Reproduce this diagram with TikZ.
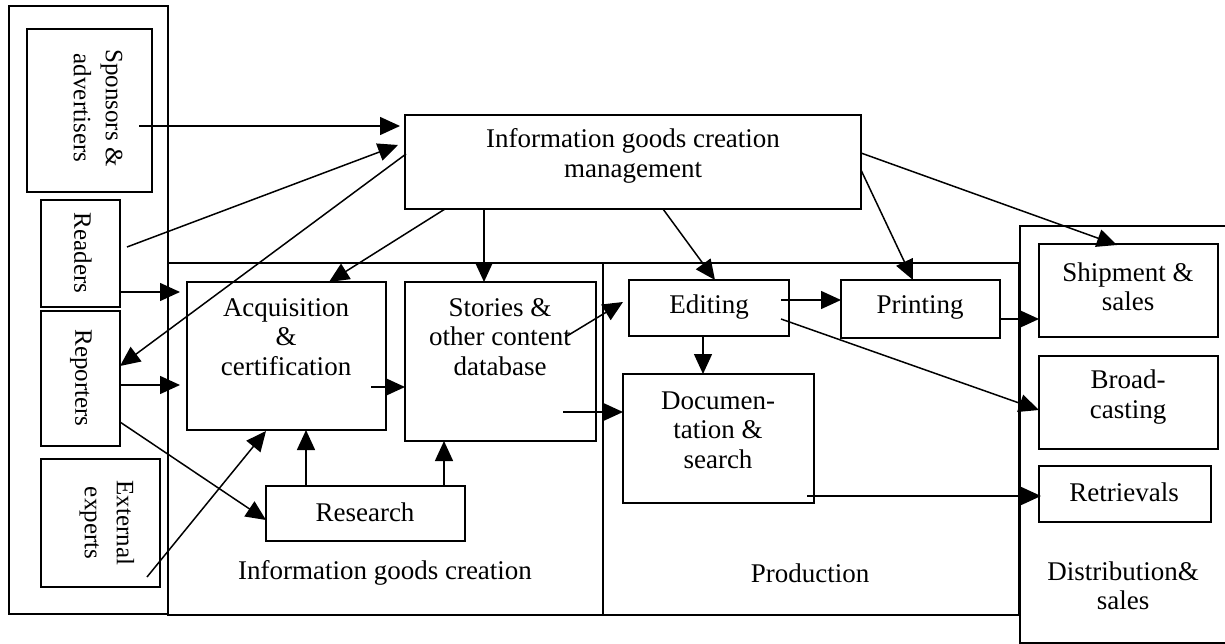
\documentclass[tikz,border=0pt]{standalone}
\usepackage{fontspec}
\setmainfont{Liberation Serif}
\usetikzlibrary{arrows.meta,calc}
\begin{document}
\begin{tikzpicture}[x=1pt,y=-1pt,
  box/.style={draw,line width=1.5pt,inner sep=0pt,outer sep=0pt,rectangle},
  region/.style={draw,line width=1.5pt,inner sep=0pt,outer sep=0pt,rectangle},
  txt/.style={inner sep=0pt,align=center,font=\fontsize{27}{29.5}\selectfont},
  vtxt/.style={inner sep=0pt,align=center,rotate=-90,font=\fontsize{25}{32}\selectfont},
  arr/.style={draw,line width=1.5pt,-{Triangle[length=20pt,width=18pt]}}]
\useasboundingbox (0,0) rectangle (1225,644);
% regions
\node[region,minimum width=159pt,minimum height=608pt] (outer) at (88.5,310) {};
\node[region,minimum width=435pt,minimum height=352pt] (creation) at (385.5,439) {};
\node[region,minimum width=416pt,minimum height=352pt] (production) at (811,439) {};
\node[region,minimum width=212pt,minimum height=417pt] (dist) at (1126,434.5) {};
% left actors
\node[box,minimum width=125pt,minimum height=163pt] (spons) at (89.5,110.5) {};
\node[box,minimum width=79pt,minimum height=107pt] (readers) at (80.5,253.5) {};
\node[box,minimum width=79pt,minimum height=135pt] (reporters) at (80.5,378.5) {};
\node[box,minimum width=119pt,minimum height=128pt] (experts) at (100.5,523) {};
\node[vtxt] (spt) at (98,108) {Sponsors \&\\advertisers};
\node[vtxt] (rdt) at (83,253) {Readers};
\node[vtxt] (rpt) at (81,378) {Reporters};
\node[vtxt] (ext) at (107,523) {External\\experts};
% main boxes
\node[box,minimum width=456pt,minimum height=94pt] (mgmt) at (633,162) {};
\node[box,minimum width=199pt,minimum height=148pt] (acq) at (286.5,356) {};
\node[box,minimum width=191pt,minimum height=159pt] (stories) at (500.5,361.5) {};
\node[box,minimum width=199pt,minimum height=55pt] (research) at (365.5,513.5) {};
\node[box,minimum width=160pt,minimum height=56pt] (editing) at (709,308) {};
\node[box,minimum width=159pt,minimum height=58pt] (printing) at (920.5,309) {};
\node[box,minimum width=191pt,minimum height=129pt] (doc) at (718.5,438.5) {};
\node[box,minimum width=179pt,minimum height=93pt] (ship) at (1128.5,290.5) {};
\node[box,minimum width=179pt,minimum height=93pt] (broad) at (1128.5,402.5) {};
\node[box,minimum width=172pt,minimum height=56pt] (retr) at (1125,494) {};
% texts
\node[txt] (mgt) at (633,156) {Information goods creation\\management};
\node[txt] (acqt) at (286,337) {Acquisition\\\&\\certification};
\node[txt] (stt) at (500,337) {Stories \&\\other content\\database};
\node[txt] (rst) at (365,512) {Research};
\node[txt] (edt) at (709,307) {Editing};
\node[txt] (prt) at (920,307) {Printing};
\node[txt] (dct) at (718,430) {Documen-\\tation \&\\search};
\node[txt] (sht) at (1128,287) {Shipment \&\\sales};
\node[txt] (brt) at (1128,397) {Broad-\\casting};
\node[txt] (rtt) at (1124,492) {Retrievals};
\node[txt] (dst) at (1123,586) {Distribution\&\\sales};
\node[txt] (crt) at (385,573) {Information goods creation};
\node[txt] (pdt) at (810,573) {Production};
% connectors
\draw[arr] ($(spons.north west)+(112,97)$) -- ($(mgmt.north west)+(-5,11)$);
\draw[arr] ($(readers.north west)+(86,47)$) -- ($(mgmt.north west)+(-7,30)$);
\draw[arr] ($(mgmt.north west)+(1,39)$) -- ($(reporters.north west)+(79,55)$);
\draw[arr] ($(mgmt.north west)+(40,94)$) -- ($(acq.north west)+(142,0)$);
\draw[arr] ($(mgmt.north west)+(79,94)$) -- ($(stories.north west)+(79,0)$);
\draw[arr] ($(mgmt.north west)+(258,94)$) -- ($(editing.north west)+(86,0)$);
\draw[arr] ($(mgmt.north west)+(456,55)$) -- ($(printing.north west)+(72,0)$);
\draw[arr] ($(mgmt.north west)+(456,38)$) -- ($(ship.north west)+(78,1)$);
\draw[arr] ($(readers.north west)+(79,92)$) -- ($(acq.north west)+(-7,10)$);
\draw[arr] ($(reporters.north west)+(79,74)$) -- ($(acq.north west)+(-7,103)$);
\draw[arr] ($(reporters.north west)+(79,111)$) -- ($(research.north west)+(0,34)$);
\draw[arr] ($(experts.north west)+(106,118)$) -- ($(acq.north west)+(79,149)$);
\draw[arr] ($(research.north west)+(40,0)$) -- ($(acq.north west)+(119,148)$);
\draw[arr] ($(research.north west)+(178,0)$) -- ($(stories.north west)+(39,159)$);
\draw[arr] ($(acq.north west)+(184,105)$) -- ($(stories.north west)+(0,105)$);
\draw[arr] ($(stories.north west)+(162,54)$) -- ($(editing.north west)+(-6,22)$);
\draw[arr] ($(stories.north west)+(158,130)$) -- ($(doc.north west)+(0,38)$);
\draw[arr] ($(editing.north west)+(152,20)$) -- ($(printing.north west)+(0,20)$);
\draw[arr] ($(editing.north west)+(74,56)$) -- ($(doc.north west)+(80,0)$);
\draw[arr] ($(editing.north west)+(152,39)$) -- ($(broad.north west)+(0,54)$);
\draw[arr] ($(printing.north west)+(159,39)$) -- ($(ship.north west)+(0,75)$);
\draw[arr] ($(doc.north west)+(184,122)$) -- ($(retr.north west)+(2,30)$);
\end{tikzpicture}
\end{document}
